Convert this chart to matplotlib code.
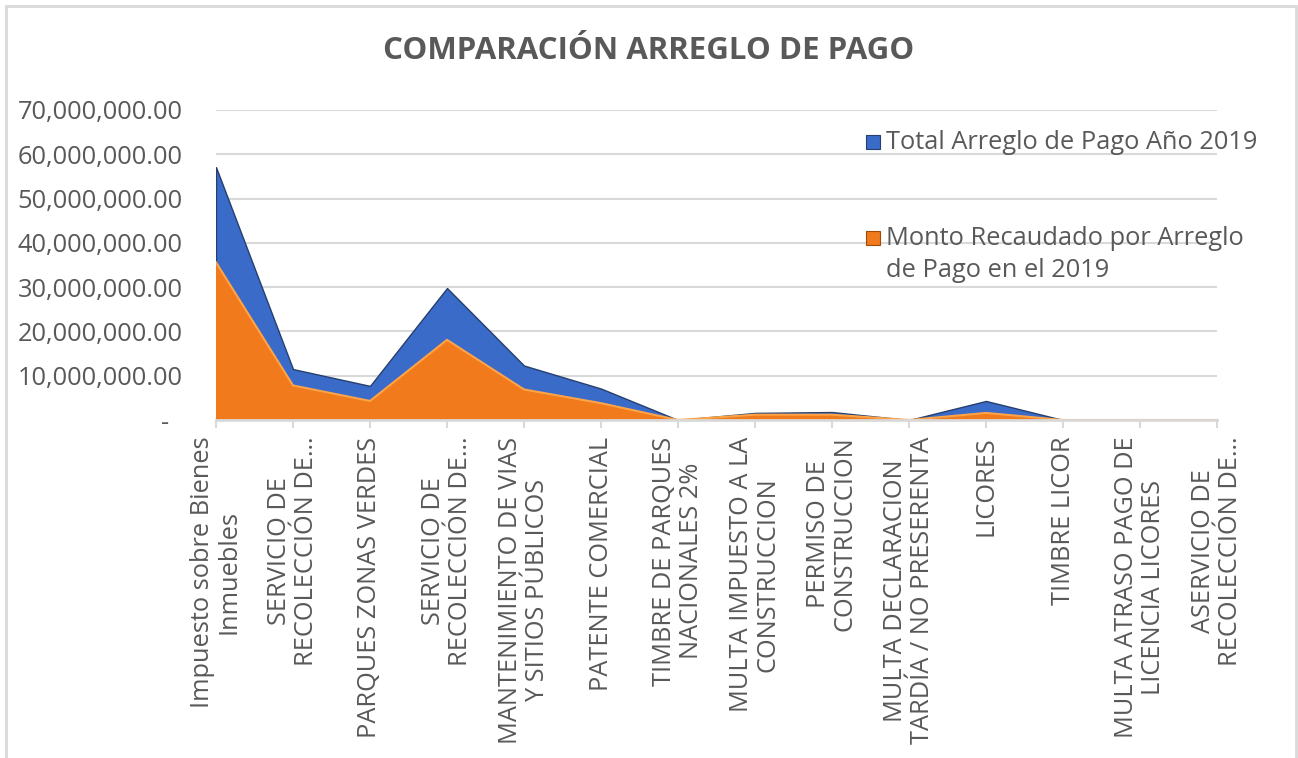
import matplotlib
matplotlib.use('Agg')
import matplotlib.pyplot as plt
from matplotlib.patches import Rectangle
from matplotlib.ticker import FuncFormatter
import numpy as np

# ── Data ──────────────────────────────────────────────────────────────────────
categorias = [
    'Impuesto sobre Bienes\nInmuebles',
    'SERVICIO DE\nRECOLECCIÓN DE…',
    'PARQUES ZONAS VERDES',
    'SERVICIO DE\nRECOLECCIÓN DE…',
    'MANTENIMIENTO DE VIAS\nY SITIOS PÚBLICOS',
    'PATENTE COMERCIAL',
    'TIMBRE DE PARQUES\nNACIONALES 2%',
    'MULTA IMPUESTO A LA\nCONSTRUCCION',
    'PERMISO DE\nCONSTRUCCION',
    'MULTA DECLARACION\nTARDÍA / NO PRESERENTA',
    'LICORES',
    'TIMBRE LICOR',
    'MULTA ATRASO PAGO DE\nLICENCIA LICORES',
    'ASERVICIO DE\nRECOLECCIÓN DE…',
]
total_2019 = [57_100_000, 11_500_000, 7_700_000, 29_800_000, 12_300_000, 7_100_000, 0,
              1_600_000, 1_800_000, 0, 4_300_000, 0, 0, 0]
recaudado_2019 = [35_600_000, 7_800_000, 4_300_000, 18_100_000, 6_900_000, 3_800_000, 0,
                  1_200_000, 1_200_000, 0, 1_600_000, 0, 0, 0]
series_labels = ['Total Arreglo de Pago Año 2019',
                 'Monto Recaudado por Arreglo\nde Pago en el 2019']
yticks = [0, 10_000_000, 20_000_000, 30_000_000, 40_000_000, 50_000_000, 60_000_000, 70_000_000]

# ── Style ─────────────────────────────────────────────────────────────────────
W, H, DPI = 1298, 758, 100
GRAY_TXT = '#595959'
GRID = '#D9D9D9'
BLUE, BLUE_EDGE = '#3A6BC9', '#263F6E'
ORANGE, ORANGE_EDGE = '#F07A1C', '#FFA347'
FS = 18.3
plt.rcParams['font.family'] = ['Open Sans', 'DejaVu Sans']

fig = plt.figure(figsize=(W / DPI, H / DPI), dpi=DPI)
ax = fig.add_axes([216 / W, 1 - 420 / H, (1217 - 216) / W, (420 - 110) / H])

x = np.arange(len(categorias))
ax.fill_between(x, 0, total_2019, facecolor=BLUE, edgecolor=BLUE_EDGE, lw=1.0, zorder=2)
ax.fill_between(x, 0, recaudado_2019, facecolor=ORANGE, edgecolor='none', zorder=3)
ax.plot(x, recaudado_2019, color=ORANGE_EDGE, lw=1.5, zorder=4)

ax.set_xlim(0, len(categorias) - 1)
ax.set_ylim(0, 70_000_000)
ax.set_yticks(yticks)
ax.yaxis.set_major_formatter(FuncFormatter(
    lambda v, p: '-  ' if v == 0 else f'{v:,.2f}'))
ax.grid(axis='y', color=GRID, lw=1.5, zorder=0)
ax.set_axisbelow(True)

ax.set_xticks(x)
ax.set_xticklabels(categorias, rotation=90, ha='center', va='top',
                   multialignment='center', linespacing=1.1)
ax.tick_params(axis='x', length=6, width=1.5, color=GRID, pad=6,
               labelsize=FS, labelcolor=GRAY_TXT)
ax.tick_params(axis='y', length=0, pad=24, labelsize=FS, labelcolor=GRAY_TXT)

for s in ['top', 'right', 'left']:
    ax.spines[s].set_visible(False)
ax.spines['bottom'].set_color(GRID)
ax.spines['bottom'].set_linewidth(2)
ax.spines['bottom'].set_zorder(5)

fig.text(0.5, 1 - 51 / H, 'COMPARACIÓN ARREGLO DE PAGO', ha='center', va='center',
         fontsize=22.5, fontweight='bold', color=GRAY_TXT)


# legend, drawn by hand on top of the plot area (no frame)
def px(xp, yp):
    return xp / W, 1 - yp / H


legend_items = [((866, 142), BLUE, BLUE_EDGE, series_labels[0]),
                ((866, 238), ORANGE, '#A04A0A', series_labels[1])]
for (lx, ly), col, edge, lab in legend_items:
    fig.patches.append(Rectangle(px(lx, ly + 7), 14 / W, 14 / H, transform=fig.transFigure,
                                 facecolor=col, edgecolor=edge, lw=0.8))
    fig.text(*px(lx + 20, ly - 12), lab, ha='left', va='top',
             fontsize=FS, color=GRAY_TXT, linespacing=1.35)

# chart border
fig.patches.append(Rectangle(px(6, 770), (1296 - 6) / W, (770 - 6) / H,
                             transform=fig.transFigure, fill=False,
                             edgecolor=GRID, lw=2))

fig.savefig('out.png', dpi=DPI)
